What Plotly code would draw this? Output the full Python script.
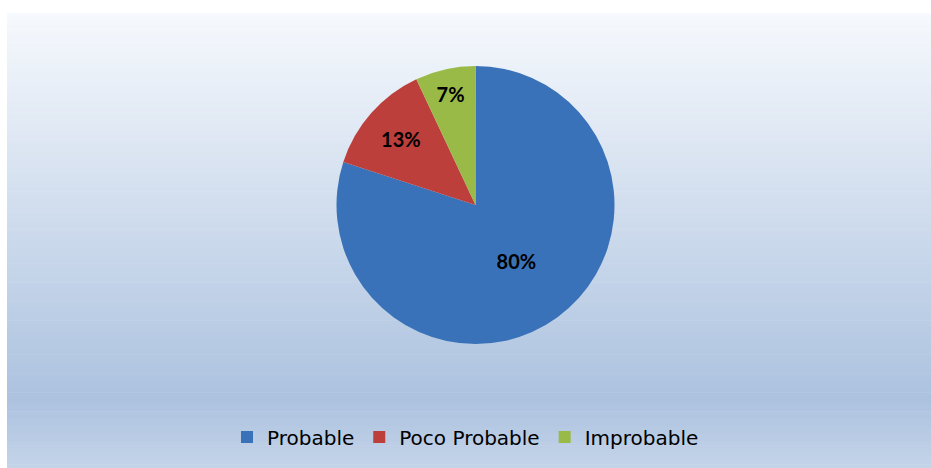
import plotly.graph_objects as go
import numpy as np

categories = ["Probable", "Poco Probable", "Improbable"]
values = [80, 13, 7]
colors = ["#3a72b9", "#bd3f3b", "#9aba48"]

W, H = 931, 468

fig = go.Figure()
fig.add_trace(go.Pie(
    labels=categories,
    values=values,
    sort=False,
    direction="clockwise",
    rotation=0,
    marker=dict(colors=colors, line=dict(width=0)),
    texttemplate="%{percent:.0%}",
    textposition="inside",
    insidetextorientation="horizontal",
    textfont=dict(family="Lato, Open Sans, sans-serif", size=20, color="black", weight="bold"),
    domain=dict(x=[334 / W, 617 / W], y=[1 - 344 / H, 1 - 66 / H]),
    hoverinfo="label+percent",
))

# background vertical gradient panel
x0, x1 = 7 / W, 1.0
top_px, bot_px = 13, 468
stops = [(0.0, (246, 249, 253)), (0.85, (172, 194, 223)), (1.0, (196, 212, 233))]
shapes = []
n = 120
for i in range(n):
    f = (i + 0.5) / n
    for k in range(len(stops) - 1):
        if stops[k][0] <= f <= stops[k + 1][0]:
            a, ca = stops[k]
            b, cb = stops[k + 1]
            t = (f - a) / (b - a)
            c = tuple(int(round(ca[j] + (cb[j] - ca[j]) * t)) for j in range(3))
            break
    py0 = top_px + (bot_px - top_px) * i / n
    py1 = top_px + (bot_px - top_px) * (i + 1) / n + 0.6
    shapes.append(dict(type="rect", xref="paper", yref="paper",
                       x0=x0, x1=x1, y0=1 - py1 / H, y1=1 - py0 / H,
                       fillcolor="rgb(%d,%d,%d)" % c, line=dict(width=0), layer="below"))

fig.update_layout(
    width=W, height=H,
    margin=dict(l=0, r=0, t=0, b=0),
    paper_bgcolor="white",
    plot_bgcolor="rgba(0,0,0,0)",
    shapes=shapes,
    showlegend=True,
    legend=dict(orientation="h", x=0.5, xanchor="center", y=1 - 437 / H, yanchor="middle",
                font=dict(family="DejaVu Sans, sans-serif", size=20, color="black"),
                bgcolor="rgba(0,0,0,0)", itemwidth=30, traceorder="normal"),
)

fig.write_html("out.html")
